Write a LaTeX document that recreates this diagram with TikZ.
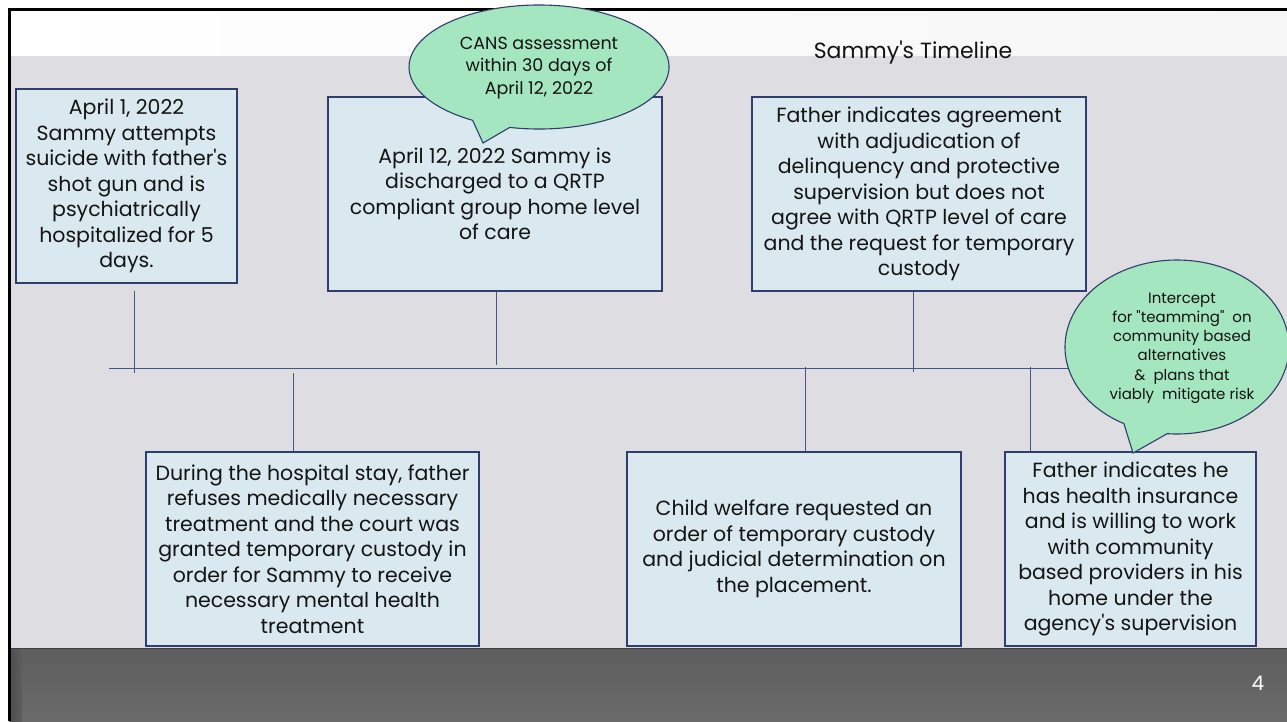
\documentclass[tikz,border=0pt]{standalone}
\usepackage{fontspec}
\setmainfont{Poppins}
\definecolor{bggray}{HTML}{DEDDE2}
\definecolor{topband}{HTML}{F6F6F6}
\definecolor{boxfill}{HTML}{DAE9F0}
\definecolor{boxline}{HTML}{2F3E6C}
\definecolor{tlcol}{HTML}{44578A}
\definecolor{bubblefill}{HTML}{A4E6BF}
\definecolor{textcol}{HTML}{141414}
\definecolor{darkbar}{HTML}{6A6A6A}
\definecolor{darkbarB}{HTML}{5E5E5E}
\tikzset{
  box/.style={draw=boxline, fill=boxfill, line width=1.2pt, align=center, inner sep=0pt,
    text=textcol, font=\fontsize{20.5}{25.5}\selectfont},
  tick/.style={draw=tlcol, line width=0.8pt},
  bubble/.style={fill=bubblefill, draw=boxline, line width=1.1pt},
  bubbletext/.style={align=center, inner sep=0pt, text=textcol},
}
\begin{document}
\begin{tikzpicture}[x=1pt,y=1pt]
\useasboundingbox (0,0) rectangle (1287,-721);
% background
\fill[white] (0,0) rectangle (1287,-721);
\shade[left color=white, right color=topband] (9,-9) rectangle (1287,-56);
\fill[bggray] (9,-56) rectangle (1287,-648);
\shade[top color=darkbarB, bottom color=darkbar] (9,-648) rectangle (1287,-721);
\shade[left color=black!70, right color=darkbarB] (9,-648) rectangle (22,-721);
\draw[black!75, line width=1.2pt] (9,-648.5) -- (1287,-648.5);
\draw[black, line width=2.5pt] (9.25,-721) -- (9.25,-9.25) -- (1287,-9.25);

% title
\node[anchor=base, text=textcol, font=\fontsize{22}{26}\selectfont] (title) at (913,-58) {Sammy\textquotesingle s Timeline};

% timeline
\coordinate (tlL) at (109,-368);
\coordinate (tlR) at (1070,-368);
\draw[tick] (tlL) -- (tlR);

% upper boxes
\node[box, minimum width=221pt, minimum height=194pt] (A) at (126.5,-186)
  {April 1, 2022\\Sammy attempts\\suicide with father\textquotesingle s\\shot gun and is\\psychiatrically\\hospitalized for 5\\days.};
\node[box, minimum width=334pt, minimum height=194pt] (B) at (495,-194)
  {April 12, 2022 Sammy is\\discharged to a QRTP\\compliant group home level\\of care};
\node[box, minimum width=334pt, minimum height=194pt] (C) at (919,-194)
  {Father indicates agreement\\with adjudication of\\delinquency and protective\\supervision but does not\\agree with QRTP level of care\\and the request for temporary\\custody};

% lower boxes
\node[box, minimum width=333pt, minimum height=194pt] (D) at (312.5,-549)
  {During the hospital stay, father\\refuses medically necessary\\treatment and the court was\\granted temporary custody in\\order for Sammy to receive\\necessary mental health\\treatment};
\node[box, minimum width=334pt, minimum height=194pt] (E) at (794,-549)
  {Child welfare requested an\\order of temporary custody\\and judicial determination on\\the placement.};
\node[box, minimum width=251pt, minimum height=194pt] (F) at (1130.5,-549)
  {Father indicates he\\has health insurance\\and is willing to work\\with community\\based providers in his\\home under the\\agency\textquotesingle s supervision};

% ticks
\coordinate (tA) at (134,-373);
\coordinate (tB) at (496,-365);
\coordinate (tC) at (913,-372);
\coordinate (tD) at (293,-373);
\coordinate (tE) at (805,-367);
\coordinate (tF) at (1030,-367);
\draw[tick] ([yshift=-7pt]A.south -| tA) -- (tA);
\draw[tick] (B.south -| tB) -- (tB);
\draw[tick] (C.south -| tC) -- (tC);
\draw[tick] (tD) -- (tD |- D.north);
\draw[tick] (tE) -- (tE |- E.north);
\draw[tick] (tF) -- (tF |- F.north);

% CANS bubble
\coordinate (cans) at (539,-67);
\coordinate (cansTip) at (483,-143);
\draw[bubble] ([shift={(257:130 and 62)}]cans)
  arc[start angle=257, end angle=599.3, x radius=130pt, y radius=62pt] -- (cansTip) -- cycle;
\node[bubbletext, font=\fontsize{17.5}{22.5}\selectfont] (cansText) at (539,-68)
  {CANS assessment\\within 30 days of\\April 12, 2022};

% Intercept bubble
\coordinate (icp) at (1177,-347);
\coordinate (icpTip) at (1133,-453);
\draw[bubble] ([shift={(265:112 and 87)}]icp)
  arc[start angle=265, end angle=601.7, x radius=112pt, y radius=87pt] -- (icpTip) -- cycle;
\node[bubbletext, font=\fontsize{15}{19.2}\selectfont] (icpText) at (1182,-348)
  {Intercept\\for \textquotedbl teamming\textquotedbl\ \ on\\community based\\alternatives\\\&\ \ plans that\\viably\ \ mitigate risk};

% page number
\node[anchor=base, text=white, font=\fontsize{20}{22}\selectfont] (pnum) at (1258,-690) {4};
\end{tikzpicture}
\end{document}
